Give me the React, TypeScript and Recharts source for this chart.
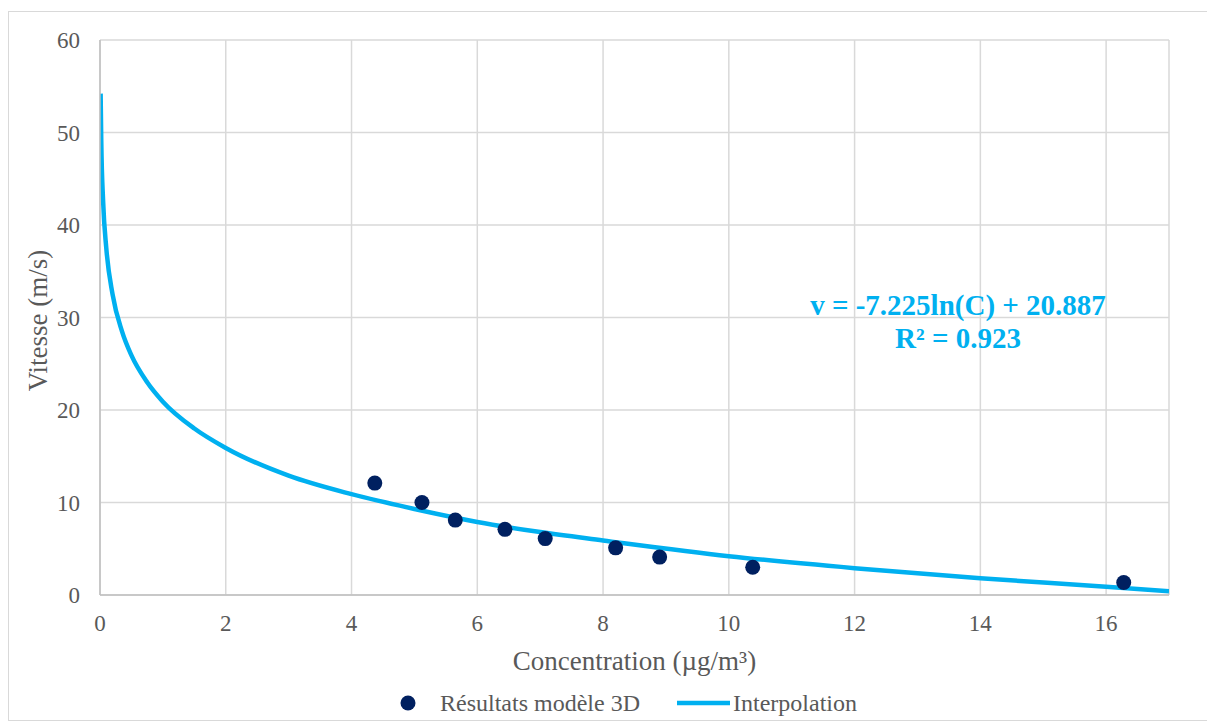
// Vitesse vs concentration: résultats du modèle 3D (points) + courbe d'interpolation log.
import { ComposedChart, Line, Scatter, XAxis, YAxis, CartesianGrid, Label } from "recharts";

const xTicks = [0, 2, 4, 6, 8, 10, 12, 14, 16];
const yTicks = [0, 10, 20, 30, 40, 50, 60];

// points du modèle 3D
const pointC = [4.37, 5.12, 5.65, 6.44, 7.08, 8.2, 8.9, 10.38, 16.28];
const pointV = [12.1, 10.0, 8.1, 7.1, 6.1, 5.1, 4.1, 3.0, 1.35];

// courbe d'interpolation
const curveC = [0.01, 0.02, 0.05, 0.1, 0.2, 0.35, 0.5, 0.75, 1, 1.5, 2, 3, 4, 5, 6, 7, 8, 10, 12, 14, 16, 17];
const curveV = [54.2, 49.1, 42.5, 37.5, 32.5, 28.5, 25.9, 23.0, 20.9, 18.0, 15.9, 12.9, 10.9, 9.3, 7.9, 6.8, 5.9, 4.2, 2.9, 1.8, 0.9, 0.4];

const points = pointC.map((c, i) => ({ c, v: pointV[i] }));
const curve = curveC.map((c, i) => ({ c, v: curveV[i] }));

const FONT = "'Liberation Serif', 'Times New Roman', serif";
const TEXT = "#595959";
const BLUE = "#00B0F0";
const NAVY = "#002060";

const Dot = (p: any) => <circle cx={p.cx} cy={p.cy} r={7.5} fill={NAVY} />;

// titres d'axes dessinés à la main (police serif garantie)
const XTitle = ({ viewBox }: any) => (
  <text
    x={viewBox.x + viewBox.width / 2}
    y={viewBox.y + viewBox.height - 5}
    textAnchor="middle"
    fontSize={27}
    fontFamily={FONT}
    fill={TEXT}
  >
    Concentration (µg/m³)
  </text>
);

const YTitle = ({ viewBox }: any) => {
  const x = viewBox.x + 38;
  const y = viewBox.y + viewBox.height / 2 + 3;
  return (
    <text
      x={x}
      y={y}
      transform={`rotate(-90, ${x}, ${y})`}
      textAnchor="middle"
      fontSize={27}
      fontFamily={FONT}
      fill={TEXT}
    >
      Vitesse (m/s)
    </text>
  );
};

export default function App() {
  return (
    <div
      style={{
        position: "relative",
        width: 1203,
        height: 708,
        marginTop: 3,
        border: "1px solid #d9d9d9",
        fontFamily: FONT,
      }}
    >
      <ComposedChart width={1203} height={708} margin={{ top: 28, right: 43, bottom: 45, left: 0 }}>
        <CartesianGrid stroke="#d9d9d9" strokeWidth={1.5} />
        <XAxis
          type="number"
          dataKey="c"
          domain={[0, 17]}
          ticks={xTicks}
          interval={0}
          allowDataOverflow
          height={80}
          tickLine={false}
          tickMargin={14}
          stroke="#bfbfbf"
          strokeWidth={1.5}
          tick={{ fontSize: 23, fill: TEXT, fontFamily: FONT }}
        >
          <Label content={XTitle} />
        </XAxis>
        <YAxis
          type="number"
          dataKey="v"
          domain={[0, 60]}
          ticks={yTicks}
          interval={0}
          width={91}
          tickLine={false}
          tickMargin={14}
          stroke="#bfbfbf"
          strokeWidth={1.5}
          tick={{ fontSize: 23, fill: TEXT, fontFamily: FONT }}
        >
          <Label content={YTitle} />
        </YAxis>
        <Line
          data={curve}
          dataKey="v"
          type="monotone"
          stroke={BLUE}
          strokeWidth={4.5}
          dot={false}
          activeDot={false}
          isAnimationActive={false}
        />
        <Scatter data={points} dataKey="v" fill={NAVY} shape={Dot} isAnimationActive={false} />
      </ComposedChart>

      {/* équation de la courbe + légende */}
      <svg
        width={1203}
        height={708}
        style={{ position: "absolute", left: 0, top: 0, pointerEvents: "none" }}
        fontFamily={FONT}
      >
        <text x={949} y={303} textAnchor="middle" fontSize={29} fontWeight="bold" fill={BLUE}>
          v = -7.225ln(C) + 20.887
        </text>
        <text x={949} y={336} textAnchor="middle" fontSize={29} fontWeight="bold" fill={BLUE}>
          R² = 0.923
        </text>

        <circle cx={399} cy={691} r={7.5} fill={NAVY} />
        <text x={431} y={699} fontSize={24} fill={TEXT}>Résultats modèle 3D</text>
        <line x1={668} y1={691} x2={721} y2={691} stroke={BLUE} strokeWidth={4.5} />
        <text x={724} y={699} fontSize={24} fill={TEXT}>Interpolation</text>
      </svg>
    </div>
  );
}
